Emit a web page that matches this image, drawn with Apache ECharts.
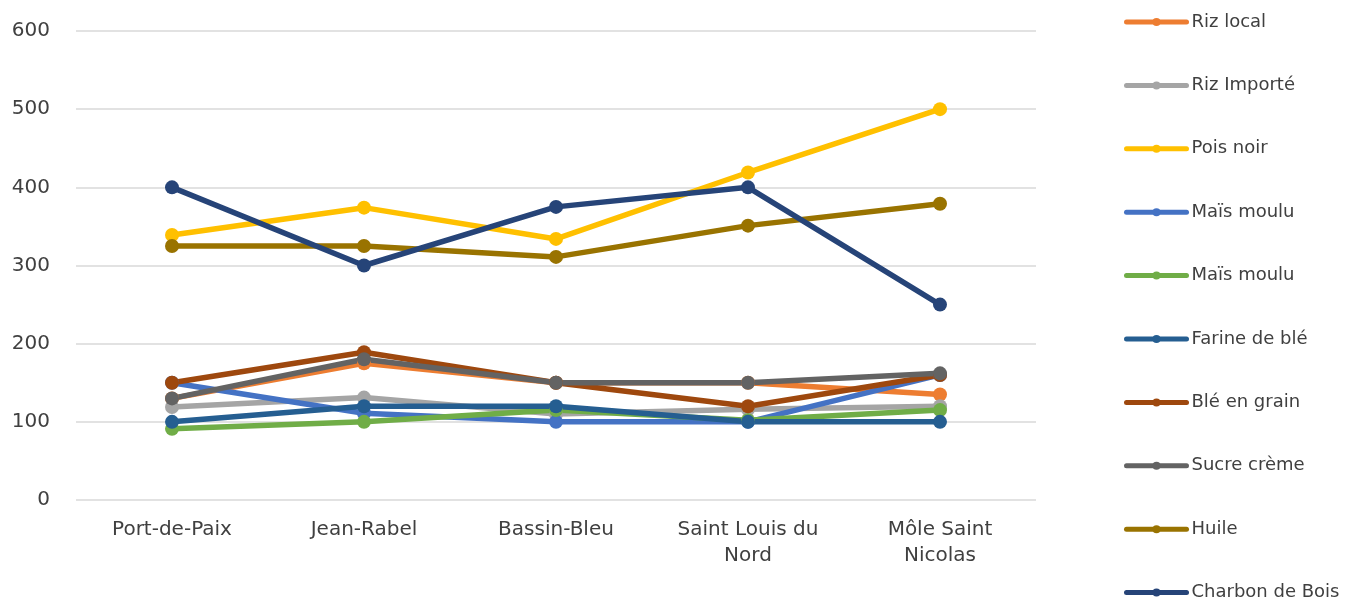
<!DOCTYPE html>
<html>
<head>
<meta charset="utf-8">
<script src="https://cdn.jsdelivr.net/npm/echarts@6/dist/echarts.min.js"></script>
<style>html,body{margin:0;padding:0;background:#fff}#c{width:1357px;height:603px}</style>
</head>
<body>
<div id="c"></div>
<script>
const categories = ['Port-de-Paix', 'Jean-Rabel', 'Bassin-Bleu', 'Saint Louis du\nNord', 'Môle Saint\nNicolas'];
const yTicks = [0, 100, 200, 300, 400, 500, 600];
const seriesNames = ['Riz local', 'Riz Importé', 'Pois noir', 'Maïs moulu', 'Maïs moulu ', 'Farine de blé', 'Blé en grain', 'Sucre crème', 'Huile', 'Charbon de Bois'];
const rizLocal = [130, 175, 150, 150, 135];
const rizImporte = [119, 131, 110, 116, 120];
const poisNoir = [339, 374, 334, 419, 500];
const maisMoulu1 = [150, 111, 100, 100, 160];
const maisMoulu2 = [91, 100, 115, 102, 115];
const farineBle = [100, 120, 120, 100, 100];
const bleGrain = [150, 189, 150, 120, 160];
const sucreCreme = [130, 180, 150, 150, 162];
const huile = [325, 325, 311, 351, 379];
const charbon = [400, 300, 375, 400, 250];
const colors = ['#ED7D31', '#A5A5A5', '#FFC000', '#4472C4', '#70AD47', '#255E91', '#9E480E', '#636363', '#997300', '#264478'];
const allData = [rizLocal, rizImporte, poisNoir, maisMoulu1, maisMoulu2, farineBle, bleGrain, sucreCreme, huile, charbon];

const FONT = 'DejaVu Sans, sans-serif';
const legendBase = {
  orient: 'vertical',
  left: 1124,
  padding: 0,
  itemWidth: 60,
  itemHeight: 10,
  itemGap: 43.4,
  lineStyle: {width: 5, cap: 'round'},
  textStyle: {fontSize: 18, color: '#404040', fontFamily: FONT, lineHeight: 20, padding: [0, 0, 0, 0]},
  formatter: n => n.trim()
};

const chart = echarts.init(document.getElementById('c'));
chart.setOption({
  animation: false,
  color: colors,
  textStyle: {fontFamily: FONT},
  grid: {left: 76, right: 321, top: 31, bottom: 103},
  legend: [
    Object.assign({}, legendBase, {top: 12, data: seriesNames.slice(0, 5)}),
    Object.assign({}, legendBase, {top: 12 + 5 * 63.4, data: seriesNames.slice(5)})
  ],
  xAxis: {
    type: 'category',
    data: categories,
    boundaryGap: true,
    axisLine: {show: false},
    axisTick: {show: false},
    axisLabel: {fontSize: 20, color: '#404040', margin: 17, lineHeight: 26, fontFamily: FONT}
  },
  yAxis: {
    type: 'value',
    min: yTicks[0],
    max: yTicks[yTicks.length - 1],
    interval: 100,
    axisLine: {show: false},
    axisTick: {show: false},
    axisLabel: {fontSize: 20, color: '#404040', margin: 26, fontFamily: FONT},
    splitLine: {lineStyle: {color: '#D9D9D9', width: 1.5}}
  },
  series: seriesNames.map((n, i) => ({
    name: n,
    type: 'line',
    data: allData[i],
    symbol: 'circle',
    symbolSize: 14,
    lineStyle: {width: 5.5, color: colors[i]},
    itemStyle: {color: colors[i]}
  }))
});
</script>
</body>
</html>
